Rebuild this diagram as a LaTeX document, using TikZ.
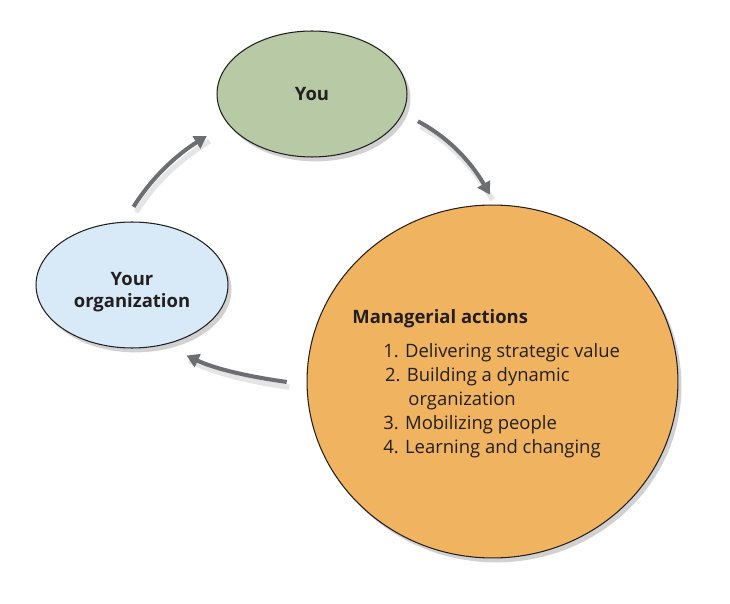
\documentclass[tikz,border=0pt]{standalone}
\usepackage{fontspec}
\setmainfont{Open Sans}
\usetikzlibrary{arrows.meta, positioning, shapes.geometric, shadows}
\definecolor{yougreen}{RGB}{183, 201, 165}
\definecolor{orgblue}{RGB}{216, 234, 248}
\definecolor{actorange}{RGB}{240, 180, 97}
\definecolor{flowgray}{RGB}{109, 110, 113}
\definecolor{inkdark}{RGB}{35, 31, 32}
\tikzset{
  softshadow/.style = {drop shadow={shadow xshift=2pt, shadow yshift=-2.5pt, opacity=0.18, fill=black}},
  youbox/.style     = {ellipse, draw=inkdark, line width=0.6pt, fill=yougreen, minimum width=3.8cm, minimum height=2.52cm, inner sep=0pt, align=center, text=inkdark, font=\fontsize{10.5}{12.5}\selectfont\bfseries, softshadow},
  orgbox/.style     = {ellipse, draw=inkdark, line width=0.6pt, fill=orgblue, minimum width=3.84cm, minimum height=2.52cm, inner sep=0pt, align=center, text=inkdark, font=\fontsize{10.5}{12.5}\selectfont\bfseries, softshadow},
  actbox/.style     = {ellipse, draw=inkdark, line width=0.6pt, fill=actorange, minimum width=7.42cm, minimum height=7.06cm, inner sep=0pt, softshadow},
  acttext/.style    = {inner sep=0pt, align=left, text=inkdark, font=\fontsize{10.5}{13.7}\selectfont},
  cycflow/.style    = {-{Triangle[length=7pt, width=8pt]}, line width=2.3pt, flowgray,
                       preaction={draw=black!10, line width=3pt, arrows=-, transform canvas={xshift=1.5pt, yshift=-3pt}}},
}

\begin{document}
\begin{tikzpicture}[x=0.02cm, y=0.02cm]

% page frame
\fill[white] (0,0) rectangle (730,-604);
\useasboundingbox (0,0) rectangle (730,-604);

% === the three stages ===
\node[youbox] (you) at (312,-94) {You};
\node[orgbox] (org) at (132,-285) {\rule{0pt}{15.5pt}Your\\organization};
\node[actbox] (actions) at (492.5,-381.5) {};

% list inside the orange circle
\node[acttext, anchor=north west] (actlist) at (352,-309) {%
  \textbf{Managerial actions}\\[5.5pt]
  \hspace*{17.6pt}1. Delivering strategic value\\
  \hspace*{18.6pt}2. Building a dynamic\\
  \hspace*{31.9pt}organization\\
  \hspace*{17.6pt}3. Mobilizing people\\
  \hspace*{17.6pt}4. Learning and changing};

% === cycle arrows (clockwise) ===
\draw[cycflow, shorten <=0.34cm, shorten >=0.23cm] (you.-12.5) to[out=-28, in=120] (actions.89.5);
\draw[cycflow, shorten <=0.4cm, shorten >=0.5cm] (actions.181) to[out=172, in=-25] (org.-62);
\draw[cycflow, shorten <=0.35cm, shorten >=0.48cm] (org.97) to[out=58, in=-148] (you.-161);

\end{tikzpicture}
\end{document}
